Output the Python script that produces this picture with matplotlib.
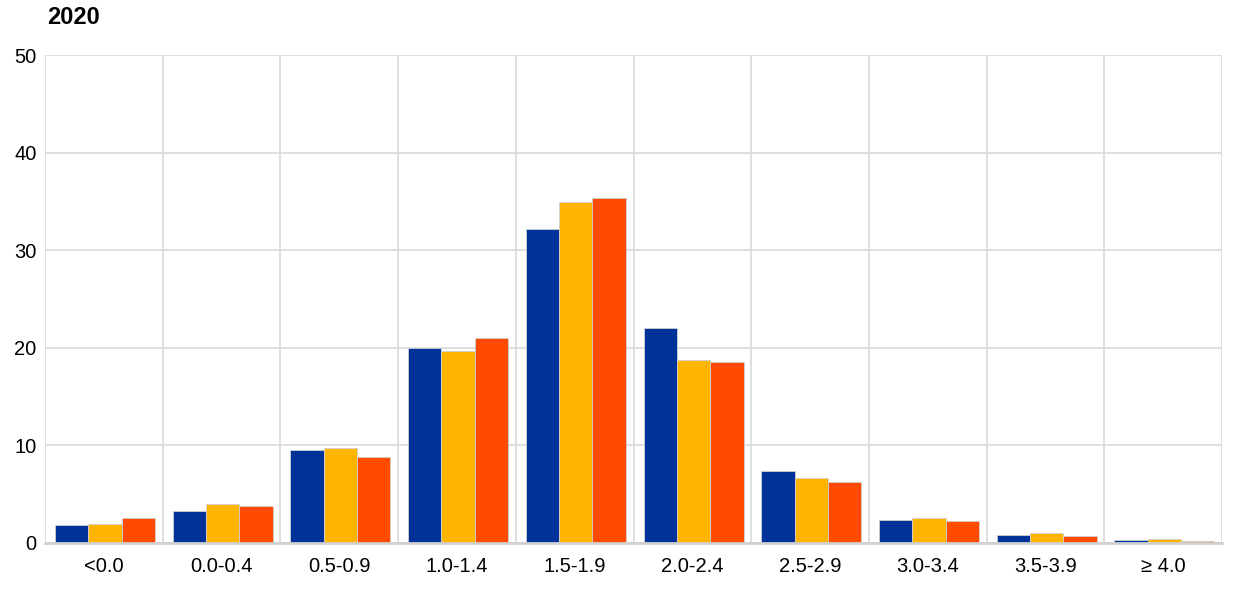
import matplotlib
matplotlib.use('Agg')
import matplotlib.pyplot as plt
import numpy as np

plt.rcParams['font.family'] = ['Liberation Sans', 'DejaVu Sans']

categories = ['<0.0', '0.0-0.4', '0.5-0.9', '1.0-1.4', '1.5-1.9',
              '2.0-2.4', '2.5-2.9', '3.0-3.4', '3.5-3.9', '\u2265 4.0']
series_a = [1.8, 3.3, 9.5, 20.0, 32.2, 22.0, 7.4, 2.4, 0.8, 0.3]
series_b = [1.9, 4.0, 9.7, 19.7, 34.9, 18.7, 6.7, 2.6, 1.0, 0.45]
series_c = [2.6, 3.8, 8.8, 21.0, 35.4, 18.5, 6.3, 2.3, 0.7, 0.25]
colors = ['#003299', '#FFB400', '#FF4B00']

fig = plt.figure(figsize=(12.4, 5.89), dpi=100)
ax = fig.add_axes([0.0363, 0.0781, 0.9492, 0.8285])

x = np.arange(len(categories))
w = 0.283
for i, (vals, c) in enumerate(zip([series_a, series_b, series_c], colors)):
    ax.bar(x + (i - 1) * w + 0.01, vals, width=w, color=c,
           edgecolor='#d0d0d0', linewidth=0.6, zorder=3)

ax.set_xlim(-0.5, len(categories) - 0.5)
ax.set_ylim(0, 50)
ax.set_yticks(range(0, 51, 10))
ax.set_xticks(x)
ax.set_xticklabels(categories)
ax.set_xticks(np.arange(-0.5, len(categories)), minor=True)
ax.tick_params(axis='both', which='both', length=0, labelsize=14.5, colors='black')
ax.tick_params(axis='x', pad=10)
ax.tick_params(axis='y', pad=6)
ax.grid(axis='y', color='#d9d9d9', linewidth=1.2, zorder=0)
ax.grid(axis='x', which='minor', color='#d9d9d9', linewidth=1.2, zorder=0)
ax.grid(axis='x', which='major', visible=False)
for s in ['top', 'right', 'left']:
    ax.spines[s].set_visible(False)
ax.spines['bottom'].set_color('#d0d0d0')
ax.spines['bottom'].set_linewidth(2)
ax.spines['bottom'].set_zorder(4)

fig.text(0.038, 0.99, '2020', fontsize=17, fontweight='bold', va='top', ha='left')

fig.savefig('out.png', dpi=100)
